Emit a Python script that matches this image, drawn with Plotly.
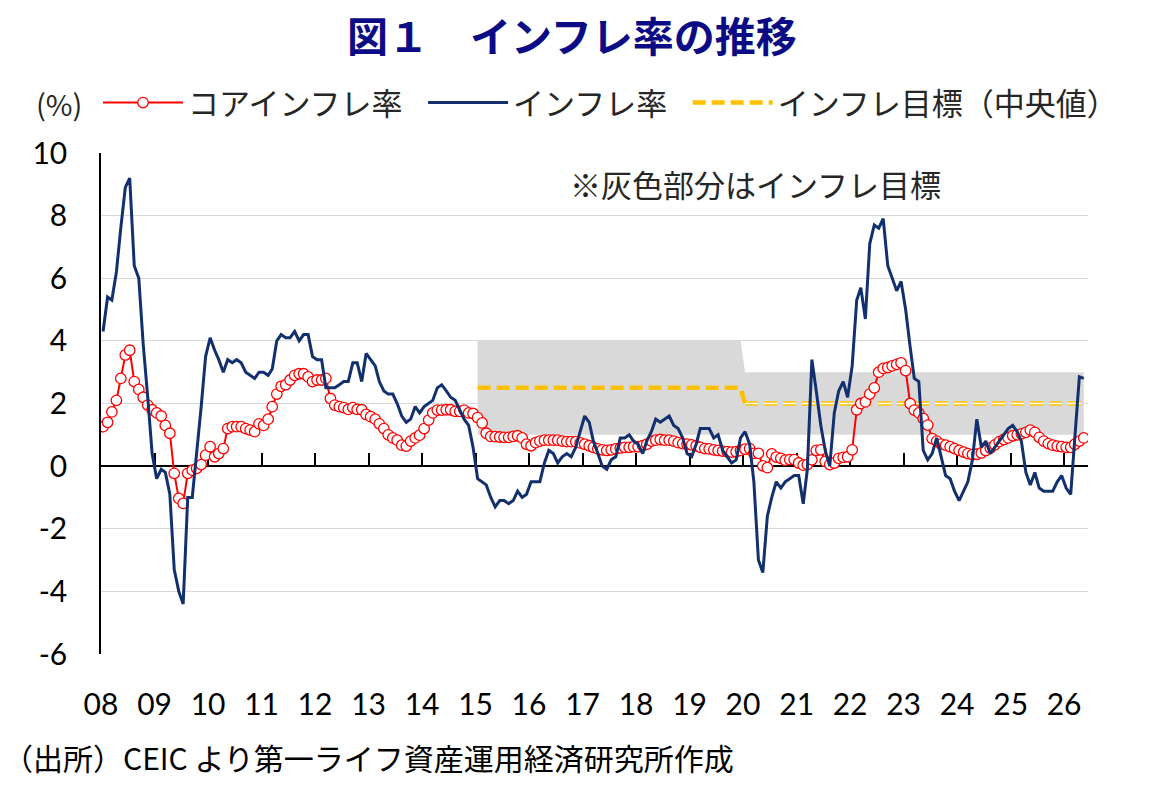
import pandas as pd
import plotly.graph_objects as go

# ---------------- data ----------------
months = pd.date_range("2008-01-01", periods=221, freq="MS") + pd.Timedelta(days=14)

headline = (
    [4.3, 5.4, 5.3, 6.2, 7.6, 8.9, 9.2, 6.4, 6.0, 3.9, 2.2, 0.4]          # 2008
    + [-0.4, -0.1, -0.2, -0.9, -3.3, -4.0, -4.4, -1.0, -1.0, 0.4, 1.9, 3.5]  # 2009
    + [4.1, 3.7, 3.4, 3.0, 3.4, 3.3, 3.4, 3.3, 3.0, 2.9, 2.8, 3.0]       # 2010
    + [3.0, 2.9, 3.1, 4.0, 4.2, 4.1, 4.1, 4.3, 4.0, 4.2, 4.2, 3.5]       # 2011
    + [3.4, 3.4, 2.5, 2.5, 2.5, 2.6, 2.7, 2.7, 3.3, 3.3, 2.7, 3.6]       # 2012
    + [3.4, 3.2, 2.7, 2.4, 2.3, 2.3, 2.0, 1.6, 1.4, 1.5, 1.9, 1.7]       # 2013
    + [1.9, 2.0, 2.1, 2.5, 2.6, 2.4, 2.2, 2.1, 1.8, 1.5, 1.3, 0.6]       # 2014
    + [-0.4, -0.5, -0.6, -1.0, -1.3, -1.1, -1.1, -1.2, -1.1, -0.8, -1.0, -0.9]  # 2015
    + [-0.5, -0.5, -0.5, 0.1, 0.5, 0.4, 0.1, 0.3, 0.4, 0.3, 0.6, 1.1]    # 2016
    + [1.6, 1.4, 0.8, 0.4, 0.0, -0.1, 0.2, 0.3, 0.9, 0.9, 1.0, 0.8]      # 2017
    + [0.7, 0.4, 0.8, 1.1, 1.5, 1.4, 1.5, 1.6, 1.3, 1.2, 0.9, 0.4]       # 2018
    + [0.3, 0.7, 1.2, 1.2, 1.2, 0.9, 1.0, 0.5, 0.3, 0.1, 0.2, 0.9]       # 2019
    + [1.1, 0.7, -0.5, -3.0, -3.4, -1.6, -1.0, -0.5, -0.7, -0.5, -0.4, -0.3]  # 2020
    + [-0.3, -1.2, -0.1, 3.4, 2.4, 1.3, 0.5, 0.0, 1.7, 2.4, 2.7, 2.2]    # 2021
    + [3.2, 5.3, 5.7, 4.7, 7.1, 7.7, 7.6, 7.9, 6.4, 6.0, 5.6, 5.9]       # 2022
    + [5.0, 3.8, 2.8, 2.7, 0.5, 0.2, 0.4, 0.9, 0.3, -0.3, -0.4, -0.8]    # 2023
    + [-1.1, -0.8, -0.5, 0.2, 1.5, 0.6, 0.8, 0.4, 0.6, 0.8, 1.0, 1.2]    # 2024
    + [1.3, 1.1, 0.8, -0.2, -0.6, -0.2, -0.7, -0.8, -0.8, -0.8, -0.5, -0.3]  # 2025
    + [-0.7, -0.9, 0.9, 2.85, 2.8]                                        # 2026
)

core = (
    [1.26, 1.4, 1.73, 2.1, 2.8, 3.55, 3.7, 2.7, 2.45, 2.2, 1.95, 1.8]
    + [1.7, 1.6, 1.3, 1.05, -0.23, -1.03, -1.19, -0.23, -0.13, -0.07, 0.05, 0.35]
    + [0.62, 0.3, 0.4, 0.56, 1.2, 1.26, 1.26, 1.26, 1.2, 1.15, 1.1, 1.35]
    + [1.3, 1.5, 1.9, 2.3, 2.55, 2.6, 2.75, 2.9, 2.95, 2.95, 2.85, 2.7]
    + [2.75, 2.75, 2.8, 2.16, 1.95, 1.9, 1.87, 1.81, 1.87, 1.81, 1.8, 1.65]
    + [1.58, 1.5, 1.35, 1.2, 1.0, 0.9, 0.83, 0.67, 0.64, 0.8, 0.9, 0.99]
    + [1.2, 1.47, 1.7, 1.79, 1.79, 1.8, 1.8, 1.75, 1.75, 1.79, 1.7, 1.68]
    + [1.55, 1.38, 1.05, 0.95, 0.94, 0.93, 0.92, 0.92, 0.95, 0.97, 0.9, 0.7]
    + [0.65, 0.75, 0.8, 0.83, 0.83, 0.83, 0.83, 0.8, 0.78, 0.78, 0.78, 0.74]
    + [0.7, 0.65, 0.6, 0.55, 0.52, 0.5, 0.52, 0.55, 0.58, 0.6, 0.6, 0.62]
    + [0.62, 0.65, 0.7, 0.8, 0.83, 0.85, 0.83, 0.83, 0.8, 0.75, 0.72, 0.7]
    + [0.68, 0.65, 0.6, 0.56, 0.55, 0.52, 0.5, 0.48, 0.46, 0.45, 0.46, 0.5]
    + [0.54, 0.56, 0.41, 0.41, 0.01, -0.05, 0.39, 0.29, 0.25, 0.19, 0.21, 0.21]
    + [0.1, 0.03, 0.05, 0.2, 0.5, 0.52, 0.15, 0.05, 0.1, 0.25, 0.28, 0.3]
    + [0.52, 1.8, 2.0, 2.05, 2.3, 2.5, 3.0, 3.12, 3.15, 3.2, 3.25, 3.3]
    + [3.05, 2.0, 1.79, 1.7, 1.52, 1.31, 0.88, 0.8, 0.7, 0.67, 0.62, 0.56]
    + [0.5, 0.45, 0.4, 0.37, 0.38, 0.42, 0.5, 0.58, 0.68, 0.78, 0.85, 0.9]
    + [0.97, 1.0, 1.03, 1.08, 1.15, 1.08, 0.92, 0.8, 0.72, 0.67, 0.64, 0.62]
    + [0.6, 0.6, 0.7, 0.8, 0.9]
)

# inflation target regimes: (start, end, lower, median, upper)
target_regimes = [
    ("2015-01", "2019-12", 1.0, 2.5, 4.0),
    ("2020-01", "2026-05", 1.0, 2.0, 3.0),
]

series_names = ["コアインフレ率", "インフレ率", "インフレ目標（中央値）"]
year_ticks = [str(y)[2:] for y in range(2008, 2027)]
y_tickvals = [-6, -4, -2, 0, 2, 4, 6, 8, 10]
y_ticktext = ["-6", "-4", "-2", "0", "2", "4", "6", "8", "10"]

# ---------------- derived tables ----------------
df = pd.DataFrame({"date": months, "headline": headline, "core": core})
df["ym"] = df["date"].dt.strftime("%Y-%m")
df["low"] = None
df["mid"] = None
df["high"] = None
for start, end, lo, mid, hi in target_regimes:
    sel = (df["ym"] >= start) & (df["ym"] <= end)
    df.loc[sel, "low"] = lo
    df.loc[sel, "mid"] = mid
    df.loc[sel, "high"] = hi
band = df[df["mid"].notna()].copy()
first_regime = band[band["ym"] <= target_regimes[0][1]]
second_regime = band[band["ym"] >= target_regimes[1][0]]
thick_part = pd.concat([first_regime, second_regime.iloc[:1]])

NAVY = "#13306E"
RED = "#FF0000"
GOLD = "#FFC000"
FONT = "Lato, 'Noto Sans CJK JP', sans-serif"
JFONT = "'Noto Sans CJK JP', sans-serif"
PAD = "\u2002"  # small trailing gap between legend entries

fig = go.Figure()

# grey target band
fig.add_trace(go.Scatter(x=band["date"], y=band["low"], mode="lines",
                         line=dict(width=0), showlegend=False, hoverinfo="skip"))
fig.add_trace(go.Scatter(x=band["date"], y=band["high"], mode="lines",
                         line=dict(width=0), fill="tonexty", fillcolor="#D9D9D9",
                         showlegend=False, hoverinfo="skip"))

# target median line
fig.add_trace(go.Scatter(x=thick_part["date"], y=thick_part["mid"], mode="lines",
                         name=series_names[2], legendrank=3,
                         line=dict(color=GOLD, width=4.5, dash="13px,6px")))
fig.add_trace(go.Scatter(x=second_regime["date"], y=second_regime["mid"], mode="lines",
                         line=dict(color=GOLD, width=4.5, dash="13px,6px"),
                         showlegend=False, hoverinfo="skip"))
fig.add_trace(go.Scatter(x=second_regime["date"], y=second_regime["mid"], mode="lines",
                         line=dict(color="#FFFFFF", width=1.4, dash="13px,6px"),
                         showlegend=False, hoverinfo="skip"))

# core inflation
fig.add_trace(go.Scatter(x=df["date"], y=df["core"], mode="lines+markers",
                         name=series_names[0] + PAD, legendrank=1,
                         line=dict(color=RED, width=2),
                         marker=dict(symbol="circle", size=10.5, color="#FFFFFF",
                                     line=dict(color=RED, width=1.3))))

# headline inflation (on overlay axis that also draws the zero axis)
fig.add_trace(go.Scatter(x=df["date"], y=df["headline"], mode="lines",
                         name=series_names[1] + PAD, legendrank=2, xaxis="x2",
                         line=dict(color=NAVY, width=3)))

xrange = ["2008-01-01", "2026-06-13"]
tickvals = [pd.Timestamp(f"{y}-01-01") for y in range(2008, 2027)]

fig.update_layout(
    width=1172, height=794,
    margin=dict(l=101, r=84, t=153, b=140),
    paper_bgcolor="white", plot_bgcolor="white",
    font=dict(family=FONT, color="#000000"),
    title=dict(text="<b>図１　インフレ率の推移</b>", x=0.488, xanchor="center",
               xref="container", y=0.952, yanchor="middle", yref="container",
               font=dict(family=JFONT, size=41, color="#0B0B86")),
    xaxis=dict(type="date", range=xrange, tickvals=tickvals, ticktext=year_ticks,
               showgrid=False, showline=False, ticks="", zeroline=False,
               tickfont=dict(size=30, family=FONT), ticklabelstandoff=30),
    xaxis2=dict(type="date", range=xrange, overlaying="x", anchor="free",
                position=0.375, side="bottom", tickvals=tickvals,
                showticklabels=False, showgrid=False, showline=True,
                linecolor="#000000", linewidth=1.5, ticks="inside", ticklen=12,
                tickwidth=1.5, tickcolor="#000000", layer="below traces"),
    yaxis=dict(range=[-6, 10], tickvals=y_tickvals, ticktext=y_ticktext,
               showgrid=True, gridcolor="#D9D9D9", gridwidth=1.2, zeroline=False,
               showline=True, linecolor="#000000", linewidth=1.5, ticks="",
               tickfont=dict(size=30, family=FONT), ticklabelstandoff=26),
    legend=dict(orientation="h", x=-0.003, xanchor="left", y=1.1, yanchor="middle",
                font=dict(size=31, family=JFONT, color="#262626"),
                itemwidth=80, bgcolor="rgba(0,0,0,0)", traceorder="normal"),
    showlegend=True,
)

fig.add_annotation(text="(%)", xref="paper", yref="paper", x=-0.0426, y=1.1,
                   xanchor="center", yanchor="middle", showarrow=False,
                   font=dict(size=29, family=JFONT, color="#262626"))
fig.add_annotation(text="※灰色部分はインフレ目標", xref="paper", yref="paper",
                   x=0.6636, y=0.94, xanchor="center", yanchor="middle",
                   showarrow=False, font=dict(size=31, family=JFONT, color="#262626"))
fig.add_annotation(text="（出所）CEIC より第一ライフ資産運用経済研究所作成",
                   xref="paper", yref="paper", x=-0.1013, y=-0.2056,
                   xanchor="left", yanchor="middle", showarrow=False,
                   font=dict(size=30, family=JFONT, color="#000000"))

fig.write_html("out.html")
